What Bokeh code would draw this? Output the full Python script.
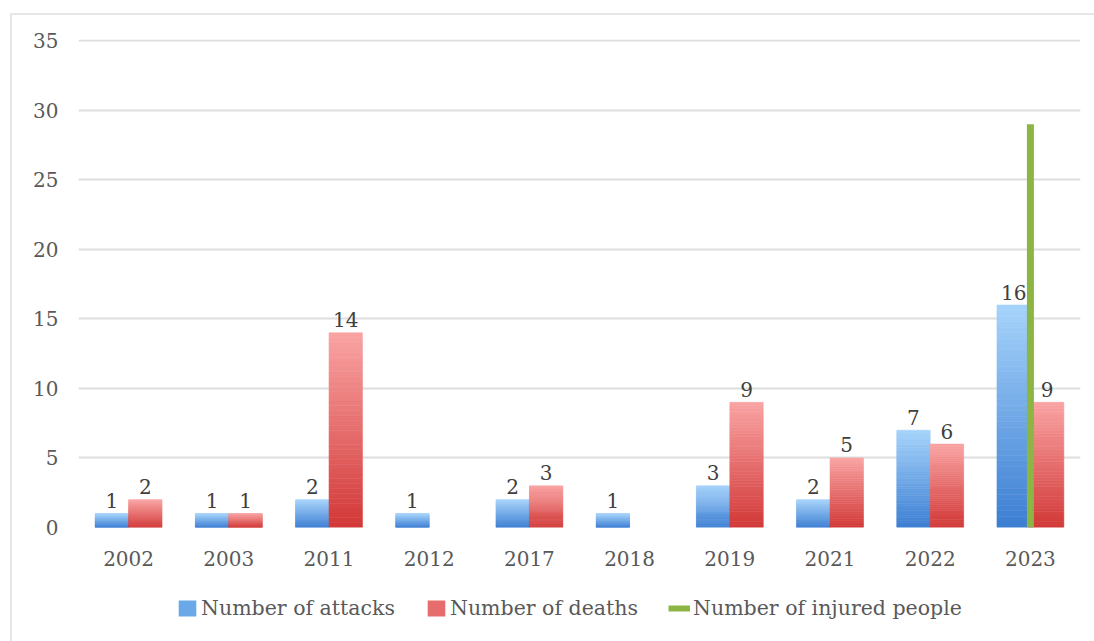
from bokeh.plotting import figure
from bokeh.layouts import column
from bokeh.models import (FactorRange, Range1d, ColumnDataSource, Legend, LegendItem,
                          SingleIntervalTicker)
from bokeh.transform import dodge
from bokeh.core.properties import value
from bokeh.embed import file_html
from bokeh.resources import INLINE

# ---- data -------------------------------------------------------------
years = ["2002", "2003", "2011", "2012", "2017", "2018", "2019", "2021", "2022", "2023"]
attacks = [1, 1, 2, 1, 2, 1, 3, 2, 7, 16]
deaths = [2, 1, 14, 0, 3, 0, 9, 5, 6, 9]
injured = [None, None, None, None, None, None, None, None, None, 29]

FONT = "DejaVu Serif"
BLUE_BOTTOM, BLUE_TOP = (0x3c, 0x7e, 0xd2), (0xa6, 0xd3, 0xfb)
RED_BOTTOM, RED_TOP = (0xd2, 0x38, 0x37), (0xf9, 0xa3, 0xa3)
GREEN = "#8cb543"
SLICES = 40
BAR_W = 0.333
OFFSET = 0.167


def hexcol(c0, c1, t):
    return "#%02x%02x%02x" % tuple(int(round(a + (b - a) * t)) for a, b in zip(c0, c1))


def gradient_source(vals, c_bottom, c_top):
    """Split each bar into thin slices so it shades from dark (bottom) to light (top)."""
    xs, bots, tops, cols = [], [], [], []
    for yr, v in zip(years, vals):
        if not v:
            continue
        for k in range(SLICES):
            xs.append(yr)
            bots.append(v * k / SLICES)
            tops.append(v * (k + 1) / SLICES)
            cols.append(hexcol(c_bottom, c_top, (k + 0.5) / SLICES))
    return ColumnDataSource(dict(x=xs, bottom=bots, top=tops, color=cols))


p = figure(x_range=FactorRange(*years), y_range=Range1d(0, 35.1),
           width=1082, height=560, output_backend="svg", toolbar_location=None,
           min_border_left=66, min_border_right=14, min_border_top=24, min_border_bottom=48)
p.background_fill_color = "white"
p.border_fill_color = "white"
p.outline_line_color = None

# gridlines / axes
p.ygrid.grid_line_color = "#dedede"
p.ygrid.grid_line_width = 2
p.xgrid.grid_line_color = None
p.yaxis.ticker = SingleIntervalTicker(interval=5)
for ax in (p.xaxis[0], p.yaxis[0]):
    ax.axis_line_color = None
    ax.major_tick_line_color = None
    ax.minor_tick_line_color = None
    ax.major_label_text_font = FONT
    ax.major_label_text_font_size = "20px"
    ax.major_label_text_color = "#595959"
p.yaxis.major_label_standoff = 14
p.xaxis.major_label_standoff = 17

# gradient bars
src_a = gradient_source(attacks, BLUE_BOTTOM, BLUE_TOP)
src_d = gradient_source(deaths, RED_BOTTOM, RED_TOP)
p.vbar(x=dodge("x", -OFFSET, range=p.x_range), bottom="bottom", top="top", width=BAR_W,
       fill_color="color", line_color="color", line_width=0.6, source=src_a)
p.vbar(x=dodge("x", OFFSET, range=p.x_range), bottom="bottom", top="top", width=BAR_W,
       fill_color="color", line_color="color", line_width=0.6, source=src_d)

# injured people: vertical line at the category
inj_x = [y for y, v in zip(years, injured) if v]
inj_v = [v for v in injured if v]
p.segment(x0=inj_x, x1=inj_x, y0=[0] * len(inj_x), y1=inj_v, line_color=GREEN, line_width=7)

# value labels above each bar
lab_a = ColumnDataSource(dict(x=[y for y, v in zip(years, attacks) if v],
                              y=[v for v in attacks if v],
                              t=[str(v) for v in attacks if v]))
lab_d = ColumnDataSource(dict(x=[y for y, v in zip(years, deaths) if v],
                              y=[v for v in deaths if v],
                              t=[str(v) for v in deaths if v]))
for src, off in ((lab_a, -OFFSET), (lab_d, OFFSET)):
    p.text(x=dodge("x", off, range=p.x_range), y="y", text="t", source=src,
           text_align="center", text_baseline="alphabetic", y_offset=-13,
           text_font=value(FONT), text_font_size="20px", text_color="#404040")

# legend strip underneath
lg = figure(x_range=(0, 1), y_range=(0, 1), width=1082, height=66,
            output_backend="svg", toolbar_location=None,
            x_axis_location=None, y_axis_location=None,
            min_border_left=0, min_border_right=0, min_border_top=0, min_border_bottom=0)
lg.grid.visible = False
lg.outline_line_color = None
lg.background_fill_color = "white"
lg.border_fill_color = "white"
r1 = lg.vbar(x=[0], top=[0], width=0.1, fill_color="#6aa8e8", line_color=None, visible=False)
r2 = lg.vbar(x=[0], top=[0], width=0.1, fill_color="#e76d6c", line_color=None, visible=False)
r3 = lg.line(x=[0], y=[0], line_color=GREEN, line_width=6, visible=False)
legend = Legend(items=[LegendItem(label="Number of attacks", renderers=[r1]),
                       LegendItem(label="Number of deaths", renderers=[r2]),
                       LegendItem(label="Number of injured people", renderers=[r3])],
                orientation="horizontal", location=(98, 21),
                label_text_font=FONT, label_text_font_size="20.5px", label_text_color="#595959",
                glyph_width=22, glyph_height=20, label_height=22, spacing=30, label_standoff=3,
                border_line_color=None, background_fill_alpha=0, margin=0, padding=0)
lg.add_layout(legend)

page = column(p, lg, margin=(13, 0, 0, 10),
              styles={"border-top": "2px solid #e6e6e6", "border-left": "2px solid #e6e6e6"})

open("out.html", "w").write(file_html(page, INLINE))
